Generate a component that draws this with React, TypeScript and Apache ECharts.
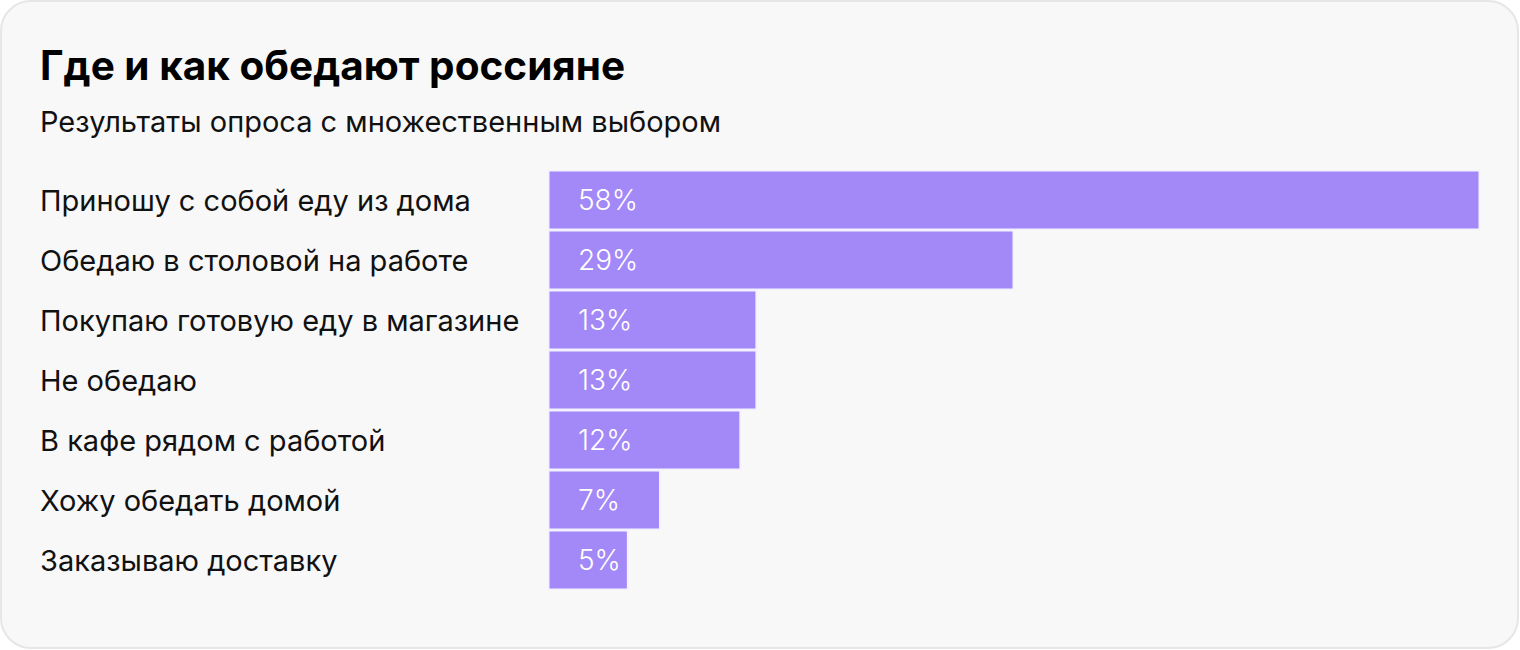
import React, { useEffect, useRef } from "react";
import * as echarts from "echarts";

const TITLE = "Где и как обедают россияне";
const SUBTITLE = "Результаты опроса с множественным выбором";
const categories = [
  "Приношу с собой еду из дома",
  "Обедаю в столовой на работе",
  "Покупаю готовую еду в магазине",
  "Не обедаю",
  "В кафе рядом с работой",
  "Хожу обедать домой",
  "Заказываю доставку",
];
const values = [58, 29, 13, 13, 12, 7, 5];

const FONT = "Inter, Roboto, 'Noto Sans', sans-serif";

export default function App() {
  const ref = useRef<HTMLDivElement>(null);
  useEffect(() => {
    if (!ref.current) return;
    const chart = echarts.init(ref.current, null, { renderer: "svg" });
    chart.setOption({
      animation: false,
      backgroundColor: "#ffffff",
      graphic: [
        {
          type: "rect",
          z: -10,
          shape: { x: 1, y: 1, width: 1517, height: 647, r: 30 },
          style: { fill: "#f8f8f8", stroke: "#e6e6e6", lineWidth: 2 },
        },
        {
          type: "text",
          x: 40,
          y: 65,
          style: {
            text: TITLE,
            fill: "#000",
            font: `bold 40.5px ${FONT}`,
            verticalAlign: "middle",
          },
        },
        {
          type: "text",
          x: 40,
          y: 121,
          style: {
            text: SUBTITLE,
            fill: "#111",
            font: `400 29px ${FONT}`,
            verticalAlign: "middle",
          },
        },
      ],
      grid: { left: 548, top: 170, width: 932, height: 420, containLabel: false },
      xAxis: {
        type: "value",
        min: 0,
        max: 58,
        show: false,
      },
      yAxis: {
        type: "category",
        data: categories,
        inverse: true,
        axisLine: { show: false },
        axisTick: { show: false },
        splitLine: { show: false },
        axisLabel: {
          align: "left",
          margin: 508,
          color: "#111",
          fontSize: 29,
          fontFamily: FONT,
          fontWeight: 400,
        },
      },
      series: [
        {
          type: "bar",
          data: values,
          barCategoryGap: "0%",
          itemStyle: { color: "#a388f7", borderColor: "#f4f1ff", borderWidth: 1.5 },
          label: {
            show: true,
            position: "insideLeft",
            distance: 30,
            formatter: "{c}%",
            color: "#fff",
            fontSize: 28,
            fontWeight: 300,
            fontFamily: FONT,
          },
        },
      ],
    });
    return () => chart.dispose();
  }, []);
  return (
    <div
      ref={ref}
      style={{ position: "fixed", left: 0, top: 0, width: 1520, height: 650 }}
    />
  );
}
